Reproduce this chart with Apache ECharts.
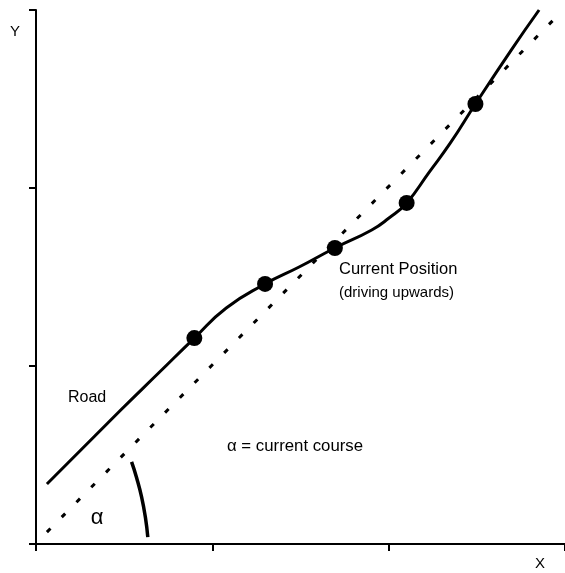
<!DOCTYPE html>
<html>
<head>
<meta charset="utf-8">
<script src="https://cdn.jsdelivr.net/npm/echarts@6/dist/echarts.min.js"></script>
<style>
html,body{margin:0;padding:0;background:#fff;}
#chart{width:565px;height:573px;}
</style>
</head>
<body>
<div id="chart"></div>
<script>
// Road (solid curve)
const roadX = [0.062, 0.475, 0.701, 0.898, 1.079, 1.299, 1.492, 1.695, 1.904, 2.000, 2.102, 2.226, 2.350, 2.492, 2.695, 2.853];
const roadY = [0.337, 0.747, 0.966, 1.157, 1.326, 1.461, 1.556, 1.663, 1.764, 1.830, 1.916, 2.084, 2.253, 2.472, 2.775, 3.000];
// Measured positions (dots)
const dotX = [0.898, 1.299, 1.695, 2.102, 2.492];
const dotY = [1.157, 1.461, 1.663, 1.916, 2.472];
// Current course (dotted tangent)
const courseX = [0.062, 2.99];
const courseY = [0.067, 3.0];
// Angle arc
const arcX = [0.542, 0.571, 0.599, 0.621, 0.634];
const arcY = [0.461, 0.371, 0.264, 0.146, 0.039];
// Axis ticks
const xTicks = [0, 1, 2, 3];
const yTicks = [0, 1, 2, 3];

const zip = (a, b) => a.map((v, i) => [v, b[i]]);
const FONT = '"Liberation Sans", Arial, sans-serif';

const chart = echarts.init(document.getElementById('chart'), null, {renderer: 'canvas'});
const axisCommon = {
  type: 'value',
  interval: 1,
  axisLine: {show: true, lineStyle: {color: '#000', width: 2}},
  axisTick: {show: true, length: 7, lineStyle: {color: '#000', width: 2}},
  axisLabel: {show: false},
  splitLine: {show: false}
};
chart.setOption({
  animation: false,
  backgroundColor: '#fff',
  grid: {left: 36, top: 10, width: 531, height: 534, containLabel: false},
  xAxis: Object.assign({}, axisCommon, {min: xTicks[0], max: xTicks[xTicks.length - 1]}),
  yAxis: Object.assign({}, axisCommon, {min: yTicks[0], max: yTicks[yTicks.length - 1]}),
  series: [
    {
      type: 'line', name: 'Course', data: zip(courseX, courseY),
      showSymbol: false, silent: true,
      lineStyle: {color: '#000', width: 3, type: [5, 16]}
    },
    {
      type: 'line', name: 'Road', data: zip(roadX, roadY),
      smooth: 0.5, showSymbol: false, silent: true,
      lineStyle: {color: '#000', width: 3}
    },
    {
      type: 'line', name: 'Arc', data: zip(arcX, arcY),
      smooth: true, showSymbol: false, silent: true,
      lineStyle: {color: '#000', width: 3.5}
    },
    {
      type: 'scatter', name: 'Positions', data: zip(dotX, dotY),
      symbol: 'circle', symbolSize: 16, silent: true,
      itemStyle: {color: '#000', opacity: 1}
    }
  ],
  graphic: [
    {type: 'text', x: 15, y: 32, style: {text: 'Y', font: '15px ' + FONT, fill: '#000', align: 'center', verticalAlign: 'middle'}},
    {type: 'text', x: 540, y: 564, style: {text: 'X', font: '15px ' + FONT, fill: '#000', align: 'center', verticalAlign: 'middle'}},
    {type: 'text', x: 68, y: 398, style: {text: 'Road', font: '16px ' + FONT, fill: '#000', align: 'left', verticalAlign: 'middle'}},
    {type: 'text', x: 339, y: 269, style: {text: 'Current Position', font: '16.5px ' + FONT, fill: '#000', align: 'left', verticalAlign: 'middle'}},
    {type: 'text', x: 339, y: 293, style: {text: '(driving upwards)', font: '15px ' + FONT, fill: '#000', align: 'left', verticalAlign: 'middle'}},
    {type: 'text', x: 227, y: 446, style: {text: 'α = current course', font: '16.8px ' + FONT, fill: '#000', align: 'left', verticalAlign: 'middle'}},
    {type: 'text', x: 97, y: 518, style: {text: 'α', font: '22px ' + FONT, fill: '#000', align: 'center', verticalAlign: 'middle'}}
  ]
});
</script>
</body>
</html>
